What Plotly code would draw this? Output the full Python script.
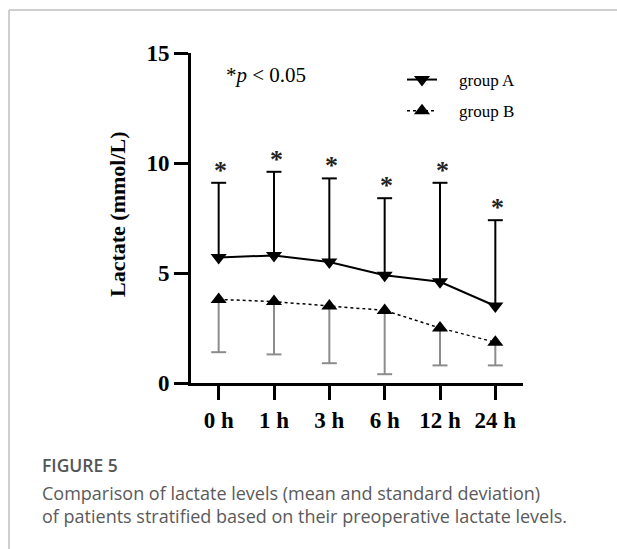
import plotly.graph_objects as go

times = ["0 h", "1 h", "3 h", "6 h", "12 h", "24 h"]
a_mean = [5.7, 5.8, 5.5, 4.9, 4.6, 3.5]
a_sd = [3.4, 3.8, 3.8, 3.5, 4.5, 3.9]
b_mean = [3.8, 3.7, 3.5, 3.3, 2.5, 1.85]
b_sd = [2.4, 2.4, 2.6, 2.9, 1.7, 1.05]
y_ticks = [0, 5, 10, 15]

W, H = 617, 549
SERIF = "Liberation Serif"
xs = list(range(len(times)))
cap = 0.135


def err_path(means, sds, sign):
    px, py = [], []
    for x, m, s in zip(xs, means, sds):
        end = m + sign * s
        px += [x, x, None, x - cap, x + cap, None]
        py += [m, end, None, end, end, None]
    return px, py


fig = go.Figure()

ax, ay = err_path(a_mean, a_sd, 1)
bx, by = err_path(b_mean, b_sd, -1)
fig.add_trace(go.Scatter(x=bx, y=by, mode="lines", line=dict(color="#8c8c8c", width=2),
                         showlegend=False, hoverinfo="skip"))
fig.add_trace(go.Scatter(x=ax, y=ay, mode="lines", line=dict(color="black", width=2),
                         showlegend=False, hoverinfo="skip"))

fig.add_trace(go.Scatter(x=xs, y=a_mean, mode="lines+markers", name="\u00a0\u00a0\u00a0\u00a0group A",
                         legendgroup="a",
                         line=dict(color="black", width=2),
                         marker=dict(symbol="triangle-down", size=14, color="black")))
fig.add_trace(go.Scatter(x=xs, y=b_mean, mode="lines+markers", name="\u00a0\u00a0\u00a0\u00a0group B",
                         legendgroup="b",
                         line=dict(color="black", width=1.5, dash="dot"),
                         marker=dict(symbol="triangle-up", size=14, color="black")))

annotations = []
for x, m, s in zip(xs, a_mean, a_sd):
    annotations.append(dict(x=x, y=m + s, xref="x", yref="y", text="*", showarrow=False,
                            yshift=-4, xshift=2, yanchor="bottom",
                            font=dict(family=SERIF, size=26, color="#222", weight="bold")))

annotations.append(dict(x=266 / W, y=1 - 75 / H, xref="paper", yref="paper",
                        text="*<i>p</i> &lt; 0.05", showarrow=False,
                        xanchor="center", yanchor="middle",
                        font=dict(family=SERIF, size=21, color="black")))
annotations.append(dict(x=117 / W, y=1 - 214 / H, xref="paper", yref="paper",
                        text="Lactate (mmol/L)", textangle=-90, showarrow=False,
                        xanchor="center", yanchor="middle",
                        font=dict(family=SERIF, size=22, color="black", weight="bold")))

annotations.append(dict(x=40 / W, y=1 - 465 / H, xref="paper", yref="paper",
                        text="FIGURE 5", showarrow=False, xanchor="left", yanchor="middle",
                        font=dict(family="Open Sans", size=17.5, color="#555555", weight=600)))
annotations.append(dict(x=40 / W, y=1 - 493 / H, xref="paper", yref="paper",
                        text="Comparison of lactate levels (mean and standard deviation)",
                        showarrow=False, xanchor="left", yanchor="middle",
                        font=dict(family="Open Sans", size=18, color="#5a5a5a")))
annotations.append(dict(x=40 / W, y=1 - 516 / H, xref="paper", yref="paper",
                        text="of patients stratified based on their preoperative lactate levels.",
                        showarrow=False, xanchor="left", yanchor="middle",
                        font=dict(family="Open Sans", size=18, color="#5a5a5a")))

shapes = [
    dict(type="line", xref="paper", yref="paper", x0=9 / W, x1=9 / W, y0=0, y1=1 - 10 / H,
         line=dict(color="#cfcfcf", width=2)),
    dict(type="line", xref="paper", yref="paper", x0=9 / W, x1=1, y0=1 - 10 / H, y1=1 - 10 / H,
         line=dict(color="#cfcfcf", width=2)),
]

fig.update_layout(
    width=W, height=H,
    margin=dict(l=0, r=0, t=0, b=0, autoexpand=False),
    paper_bgcolor="white", plot_bgcolor="white",
    showlegend=True,
    legend=dict(x=402 / W, y=1 - 62 / H, xanchor="left", yanchor="top",
                bgcolor="rgba(0,0,0,0)", tracegroupgap=6,
                font=dict(family=SERIF, size=17, color="black")),
    annotations=annotations,
    shapes=shapes,
    xaxis=dict(domain=[191 / W, 523 / W], range=[-0.5, 5.5], tickmode="array", automargin=False,
               tickvals=xs, ticktext=times, showline=True, linecolor="black", linewidth=3,
               ticks="outside", ticklen=14, tickwidth=3, tickcolor="black",
               showgrid=False, zeroline=False,
               tickfont=dict(family=SERIF, size=23, color="black", weight="bold")),
    yaxis=dict(domain=[1 - 383 / H, 1 - 53 / H], range=[0, 15], tickmode="array", automargin=False,
               tickvals=y_ticks, showline=True, linecolor="black", linewidth=3,
               ticks="outside", ticklen=14, tickwidth=3, tickcolor="black",
               showgrid=False, zeroline=False,
               tickfont=dict(family=SERIF, size=23, color="black", weight="bold")),
)

fig.write_html("out.html", post_script="document.body.style.margin='0';")
